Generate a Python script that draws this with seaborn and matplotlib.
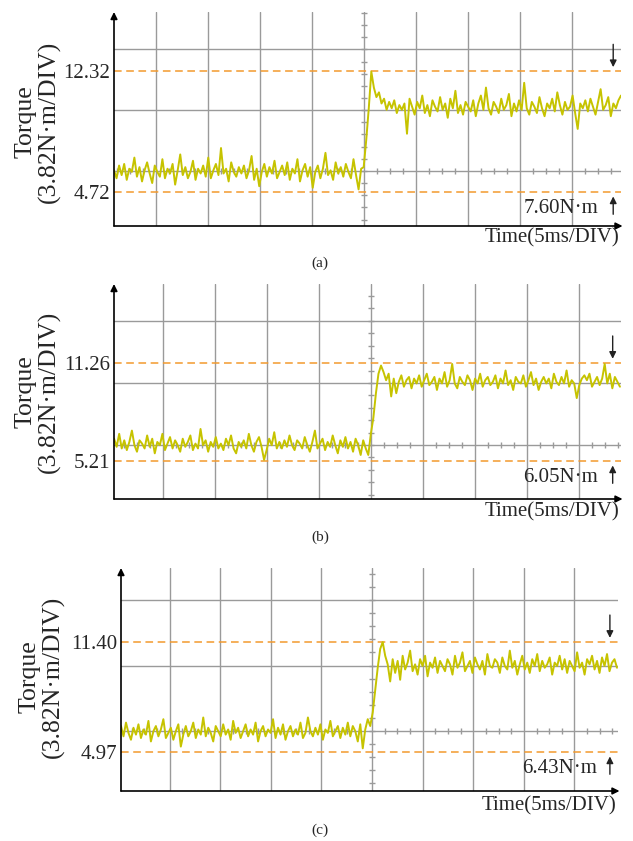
import numpy as np
import pandas as pd
import matplotlib
matplotlib.use("Agg")
import matplotlib.pyplot as plt
import seaborn as sns

# ---------------- data ----------------
captions = ["(a)", "(b)", "(c)"]
y_label = "Torque\n(3.82N·m/DIV)"
x_label = "Time(5ms/DIV)"
div_torque = 3.82  # N·m per division

levels_a = [4.72, 12.32]
levels_b = [5.21, 11.26]
levels_c = [4.97, 11.40]
diff_labels = ["7.60N·m", "6.05N·m", "6.43N·m"]

torque_a = [
    6.1, 5.6, 6.4, 5.8, 6.5, 5.5, 6.2, 6.0, 6.9, 5.7,
    6.3, 5.4, 6.1, 6.6, 5.9, 5.3, 6.4, 6.0, 5.7, 6.8,
    5.6, 6.2, 5.9, 6.5, 5.2, 6.1, 7.1, 5.8, 6.3, 5.6,
    6.0, 6.7, 5.5, 6.2, 5.9, 6.4, 5.7, 6.9, 5.6, 6.1,
    6.5, 5.8, 7.5, 5.9, 6.2, 5.4, 6.6, 6.0, 5.7, 6.3,
    5.9, 6.4, 5.6, 6.1, 7.0, 5.5, 6.2, 5.1, 6.0, 6.5,
    5.7, 6.3, 5.9, 6.7, 5.6, 6.0, 6.4, 5.8, 6.6, 5.5,
    6.2, 5.9, 6.8, 5.4, 6.1, 6.5, 5.7, 6.3, 5.0, 6.0,
    6.4, 5.6, 6.2, 7.2, 5.8, 6.1, 5.5, 6.6, 5.9, 6.3,
    5.7, 6.5, 6.0, 5.6, 6.8, 5.8, 4.9, 6.2, 6.3,
    8.0, 10.0, 12.3, 11.3, 10.7, 11.0, 10.3, 10.6, 9.9, 10.4,
    10.0, 10.5, 9.7, 10.2, 9.9, 10.3, 8.4, 10.6, 10.1, 9.6,
    10.4, 10.0, 10.8, 9.7, 10.2, 9.5, 10.5, 10.1, 9.8, 10.7,
    9.9, 10.3, 9.4, 10.6, 10.0, 11.1, 9.7, 10.2, 9.6, 10.4,
    10.1, 9.8, 10.5, 9.5, 10.3, 10.8, 9.9, 11.3, 10.0, 9.6,
    10.4, 10.1, 9.7, 10.6, 9.9, 10.2, 10.9, 9.5, 10.3, 9.8,
    10.5, 9.9, 11.6, 10.0, 9.6, 10.4, 10.1, 9.7, 10.7, 10.0,
    9.5, 10.3, 10.0, 10.6, 9.8, 11.0, 10.2, 9.6, 10.4, 9.9,
    10.1, 10.8, 9.7, 8.7, 10.3, 10.0, 10.5, 9.8, 10.6, 10.1,
    9.6, 10.4, 11.2, 9.9, 10.2, 10.7, 9.5, 10.3, 10.0, 10.5,
    10.8,
]
torque_b = [
    6.6, 6.1, 6.9, 6.0, 6.5, 5.9, 6.4, 7.1, 6.2, 5.8,
    6.5, 6.3, 6.0, 6.8, 6.1, 6.6, 5.7, 6.4, 6.2, 6.9,
    5.9, 6.3, 6.7, 6.0, 6.5, 6.2, 5.8, 6.6, 6.1, 6.4,
    6.8, 5.9, 6.3, 6.0, 7.2, 6.2, 6.5, 5.8, 6.4, 6.1,
    6.7, 6.0, 6.3, 5.9, 6.6, 6.2, 6.8, 6.0, 5.7, 6.4,
    6.1, 6.5, 6.0, 6.9, 6.2, 5.8, 6.4, 6.7, 6.1, 5.3,
    5.9, 6.6, 6.2, 7.0, 6.0, 6.4, 6.0, 6.5, 6.1, 6.8,
    6.2, 5.9, 6.5, 6.3, 6.0, 6.7, 6.2, 5.8, 6.4, 7.1,
    6.0, 6.3, 6.6, 5.9, 6.4, 6.1, 6.8, 6.2, 5.7, 6.5,
    6.1, 6.7, 6.0, 6.4, 5.8, 6.6, 6.2, 5.6, 6.5, 6.0,
    5.6,
    6.9, 7.9, 9.4, 10.6, 11.1, 10.7, 10.2, 10.6, 9.2, 10.3,
    9.4, 10.1, 10.5, 9.8, 10.2, 10.4, 9.7, 10.3, 10.0, 10.5,
    9.8, 10.2, 10.6, 9.9, 10.1, 10.4, 9.6, 10.3, 10.0, 10.7,
    9.8, 10.2, 11.2, 10.0, 9.7, 10.4, 10.1, 9.9, 10.5, 10.2,
    9.6, 10.3, 10.0, 10.6, 9.8, 10.2, 10.4, 9.9, 10.1, 10.5,
    9.7, 10.3, 10.0, 10.8, 9.9, 10.2, 9.6, 10.4, 10.1, 10.0,
    10.5, 9.8, 10.2, 10.7, 9.9, 10.3, 9.6, 10.1, 10.4, 10.0,
    10.3, 9.7, 10.6, 10.1, 9.9, 10.4, 10.0, 10.8, 9.8, 10.2,
    10.0, 9.1, 9.9, 10.3, 10.5, 10.2, 10.6, 9.8, 10.1, 10.4,
    9.9, 10.3, 11.2, 10.0, 10.6, 9.7, 10.4, 10.1, 9.8,
]
torque_c = [
    6.5, 5.9, 6.7, 6.1, 5.7, 6.4, 6.0, 6.6, 5.8, 6.3,
    6.0, 6.8, 5.6, 6.2, 6.5, 5.9, 6.3, 6.9, 5.8, 6.1,
    6.4, 5.7, 6.2, 6.6, 5.3, 6.0, 6.5, 5.9, 6.2, 6.7,
    5.8, 6.3, 6.0, 7.0, 5.9, 6.4, 6.1, 5.6, 6.5, 6.2,
    5.9, 6.6, 6.0, 6.3, 5.7, 6.8, 6.1, 6.4, 5.8, 6.2,
    6.6, 5.9, 6.3, 6.0, 6.7, 5.6, 6.2, 6.5, 5.9, 6.3,
    6.1, 6.9, 5.8, 6.4, 6.0, 6.6, 5.7, 6.2, 6.5, 5.9,
    6.3, 6.0, 6.7, 5.8, 6.1, 7.0, 6.2, 5.9, 6.4, 6.0,
    6.6, 5.7, 6.3, 6.1, 6.8, 5.9, 6.2, 6.5, 5.8, 6.4,
    6.0, 6.7, 5.9, 6.5, 6.2, 5.6, 6.6, 5.2, 6.3, 6.9,
    6.5,
    7.3, 8.6, 9.9, 11.0, 11.4, 10.6, 10.1, 9.1, 10.4, 9.6,
    10.3, 9.2, 10.6, 9.8, 10.2, 10.9, 9.7, 10.1, 9.5, 10.4,
    10.0, 10.6, 9.4, 10.2, 9.9, 10.5, 9.6, 10.3, 10.0, 9.7,
    10.4, 10.1, 9.5, 10.6, 9.9, 10.2, 10.8, 9.7, 10.0, 10.3,
    9.6, 10.5, 10.1, 9.8, 10.3, 9.5, 10.7, 10.0, 9.9, 10.4,
    10.2, 9.6, 10.5, 10.0, 9.8, 10.9, 9.9, 10.3, 9.5, 10.1,
    10.6, 9.8, 10.2, 9.6, 10.4, 10.0, 10.7, 9.7, 10.3, 9.9,
    10.1, 10.5, 9.5, 10.2, 10.0, 10.6, 9.8, 10.4, 9.6, 10.3,
    10.0, 9.7, 10.8, 9.9, 10.2, 9.5, 10.4, 10.1, 10.6, 9.8,
    10.3, 9.6, 10.5, 10.0, 10.7, 9.7, 10.2, 10.4, 9.9,
]
torques = [torque_a, torque_b, torque_c]
levels = [levels_a, levels_b, levels_c]
grid_centers = [6.06, 6.21, 6.21]   # centre graticule line (N·m)
time_spans = [(0.19, 9.95), (0.06, 9.79), (0.04, 9.84)]  # in divisions

# ---------------- layout (pixels) ----------------
W, H = 633, 841
boxes = [(114, 12, 621, 226), (114, 284, 621, 499), (121, 568, 618, 791)]
xlims = [(0.19, 9.95), (0.058, 9.81), (0.04, 9.86)]
ylims = [(2.60, 16.05), (2.89, 16.12), (2.71, 15.72)]
arrow_x = [9.80, 9.65, 9.70]
text_x = [9.51, 9.37, 9.45]
time_dy = [-12, -13, -15]
caption_y = [263, 537, 830]
label_pos = [(37.5, 122), (37.5, 392), (42, 677)]

TRACE = "#c6c300"
ORANGE = "#f29a2e"
GRID = "#9a9a9a"

sns.set_style("white")
plt.rcParams["font.family"] = ["Liberation Serif", "DejaVu Serif"]

fig = plt.figure(figsize=(W / 100, H / 100), dpi=100)

for i in range(3):
    l, t, r, b = boxes[i]
    ax = fig.add_axes([l / W, 1 - b / H, (r - l) / W, (b - t) / H])
    ax.set_xlim(*xlims[i])
    ax.set_ylim(*ylims[i])
    y0, y1 = ylims[i]
    x0, x1 = xlims[i]
    c = grid_centers[i]

    # graticule
    for k in range(0, 11):
        if x0 < k < x1:
            ax.axvline(k, color=GRID, lw=1.0, zorder=1)
    for k in range(-2, 5):
        yv = c + k * div_torque
        if y0 < yv < y1:
            ax.axhline(yv, color=GRID, lw=1.0, zorder=1)
    # minor ticks on centre lines
    yt = [c + k * div_torque / 5 for k in range(-20, 60) if y0 < c + k * div_torque / 5 < y1]
    ax.plot([5] * len(yt), yt, ls="none", marker="_", ms=5, mew=1.0, color=GRID, zorder=1)
    xt = [5 + k * 0.25 for k in range(-25, 25) if x0 < 5 + k * 0.25 < x1 and (5 + k * 0.25) % 1 != 0]
    ax.plot(xt, [c] * len(xt), ls="none", marker="|", ms=5, mew=1.0, color=GRID, zorder=1)

    # dashed reference levels
    for lv in levels[i]:
        ax.axhline(lv, color=ORANGE, lw=1.1, ls=(0, (5, 3)), zorder=2)

    # trace
    vals = torques[i]
    df = pd.DataFrame({"t": np.linspace(time_spans[i][0], time_spans[i][1], len(vals)), "v": vals})
    sns.lineplot(data=df, x="t", y="v", ax=ax, color=TRACE, linewidth=1.4, zorder=3)
    ax.set_xlabel("")
    ax.set_ylabel("")

    # ticks
    ax.set_xticks([])
    ax.set_yticks(levels[i])
    ax.set_yticklabels([f"{v:.2f}" for v in levels[i]], fontsize=15)
    ax.tick_params(axis="y", length=0, pad=3)
    for s in ax.spines.values():
        s.set_visible(False)

    # axes with arrows
    ap = dict(arrowstyle="-|>", color="black", lw=1.2, mutation_scale=10, shrinkA=0, shrinkB=0)
    ax.annotate("", xy=(1.003, 0), xytext=(0, 0), xycoords="axes fraction", arrowprops=ap, annotation_clip=False)
    ax.annotate("", xy=(0, 1.0), xytext=(0, 0), xycoords="axes fraction", arrowprops=ap, annotation_clip=False)

    # difference arrows and label
    ap2 = dict(arrowstyle="-|>", color="#222222", lw=1.0, mutation_scale=10, shrinkA=0, shrinkB=3)
    lo, hi = levels[i]
    ax.annotate("", xy=(arrow_x[i], hi), xytext=(0, 27), textcoords="offset pixels", arrowprops=ap2)
    ax.annotate("", xy=(arrow_x[i], lo), xytext=(0, -22), textcoords="offset pixels", arrowprops=ap2)
    ax.annotate(diff_labels[i], xy=(text_x[i], lo), xytext=(0, -16), textcoords="offset pixels",
                ha="right", va="center", fontsize=15)

    # time label
    ax.annotate(x_label, xy=(1, 0), xycoords="axes fraction", xytext=(-2, time_dy[i]),
                textcoords="offset pixels", ha="right", va="center", fontsize=15)

    # y label and caption
    fig.text(label_pos[i][0] / W, 1 - label_pos[i][1] / H, y_label, rotation=90,
             ha="center", va="center", fontsize=18.5, linespacing=1.08, multialignment="center")
    fig.text(320 / W, 1 - caption_y[i] / H, captions[i], ha="center", va="center", fontsize=11)

fig.savefig("out.png", dpi=100)
